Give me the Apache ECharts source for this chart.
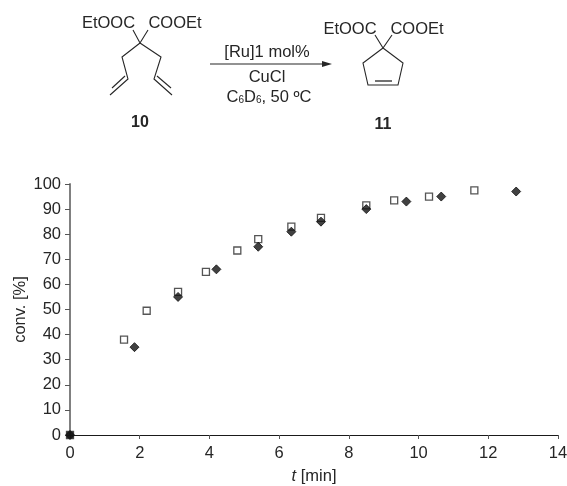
<!DOCTYPE html>
<html><head><meta charset="utf-8">
<style>html,body{margin:0;padding:0;background:#fff}#c{width:567px;height:486px}</style>
<script src="https://cdn.jsdelivr.net/npm/echarts@6/dist/echarts.min.js"></script>
</head><body><div id="c"></div>
<script>
const openSquares = [[0,0],[1.55,38],[2.2,49.5],[3.1,57],[3.9,65],[4.8,73.5],[5.4,78],[6.35,83],[7.2,86.5],[8.5,91.5],[9.3,93.5],[10.3,95],[11.6,97.5]];
const filledDiamonds = [[0,0],[1.85,35],[3.1,55],[4.2,66],[5.4,75],[6.35,81],[7.2,85],[8.5,90],[9.65,93],[10.65,95],[12.8,97]];
const FONT = '"Liberation Sans", Arial, sans-serif';
const INK = '#262626';
const chart = echarts.init(document.getElementById('c'), null, {renderer:'canvas'});

function poly(points, w){ return {type:'polyline', silent:true, shape:{points}, style:{stroke:INK, lineWidth:w||1.1, fill:null}}; }
function txt(x,y,text,extra){ return {type:'text', silent:true, x, y, style:Object.assign({text, font:'16.5px '+FONT, fill:INK, align:'center', verticalAlign:'middle'}, extra||{})}; }

const scheme = [
  poly([[133,30],[140,43],[148,30]]),
  poly([[140,43],[122,57],[128,79],[110,95]]),
  poly([[125,76],[112,88]]),
  poly([[140,43],[161,57],[154,79],[172,95]]),
  poly([[157,76],[171,88]]),
  poly([[210,64],[326,64]]),
  {type:'polygon', silent:true, shape:{points:[[322,61],[332,64],[322,67]]}, style:{fill:INK}},
  poly([[375,35],[383,48],[392,35]]),
  poly([[383,48],[363,63],[368,85],[398,85],[403,63],[383,48]]),
  poly([[375,81],[392,81]], 1.3),
  txt(108.5,23,'EtOOC'), txt(175,23,'COOEt'),
  txt(350,29,'EtOOC'), txt(417,29,'COOEt'),
  txt(267,52,'[Ru]1 mol%'),
  txt(267,77,'CuCl'),
  {type:'text', silent:true, x:269, y:97, style:{
    text:'C{s|6}D{s|6}, 50 ºC', font:'16.5px '+FONT, fill:INK, align:'center', verticalAlign:'middle',
    rich:{s:{fontSize:10, fontFamily:'Liberation Sans', fill:INK, padding:[7,0,0,0]}}
  }},
  txt(140,123,'10',{font:'bold 16px '+FONT}),
  txt(383,125,'11',{font:'bold 16px '+FONT})
];

chart.setOption({
  animation:false,
  backgroundColor:'#fff',
  grid:{left:70, right:9, top:184, bottom:51, containLabel:false, outerBoundsMode:'none'},
  xAxis:{
    type:'value', min:0, max:14, interval:2,
    axisLine:{onZero:false, lineStyle:{color:'#1a1a1a', width:1}},
    axisTick:{show:true, length:4, lineStyle:{color:'#555'}},
    axisLabel:{color:INK, fontSize:16.5, fontFamily:FONT, margin:10},
    splitLine:{show:false},
    name:'{i|t} [min]', nameLocation:'middle', nameGap:33, nameMoveOverlap:false,
    nameTextStyle:{color:INK, fontSize:16.5, fontFamily:FONT, rich:{i:{fontStyle:'italic', fontSize:16.5, fontFamily:FONT, color:INK}}}
  },
  yAxis:{
    type:'value', min:0, max:100, interval:10,
    axisLine:{onZero:false, lineStyle:{color:'#808080', width:2}},
    axisTick:{show:true, length:5, lineStyle:{color:'#555'}},
    axisLabel:{color:INK, fontSize:16.5, fontFamily:FONT, margin:9},
    splitLine:{show:false},
    name:'conv. [%]', nameLocation:'middle', nameGap:41, nameMoveOverlap:false,
    nameTextStyle:{color:INK, fontSize:16.5, fontFamily:FONT}
  },
  series:[
    {name:'open', type:'scatter', data:openSquares, symbol:'rect', symbolSize:7,
     itemStyle:{color:(p)=>p.dataIndex===0?'#111':'#fff', borderColor:'#2a2a2a', borderWidth:1.3}, z:2, clip:false},
    {name:'filled', type:'scatter', data:filledDiamonds, symbol:'diamond', symbolSize:9,
     itemStyle:{color:'#111', borderColor:'#111', borderWidth:1}, z:3, clip:false}
  ],
  graphic:scheme
});
</script></body></html>
